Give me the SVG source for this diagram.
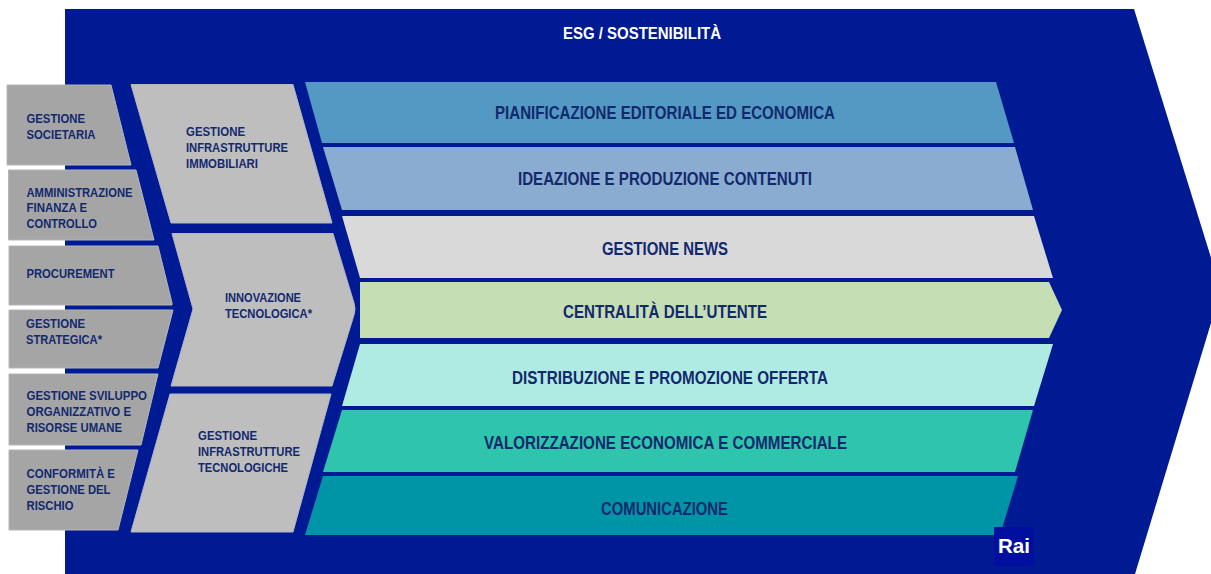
<svg xmlns="http://www.w3.org/2000/svg" width="1211" height="574" viewBox="0 0 1211 574">
<style>
text{font-family:"Liberation Sans",Arial,sans-serif;font-weight:bold;fill:#12296e}
.s{font-size:13.500px}
.b{font-size:18px}
.l{fill:#a5a5a5;stroke:#b4b6bd;stroke-width:1}
.c{fill:#bebebe;stroke:#b4b6c4;stroke-width:1}
</style>
<rect width="1211" height="574" fill="#fff"/>
<g id="frame">
<path d="M65 9H1134L1221 290L1135 574H65Z" fill="#001a94"/>
<text x="563" y="39" textLength="158" lengthAdjust="spacingAndGlyphs" style="font-size:16px;fill:#fff">ESG / SOSTENIBILITÀ</text>
</g>
<g id="connectors"/>
<g id="gestione-societaria"><path class="l" d="M7 85H111L131 165H7Z"/><text class="s" x="26.500" y="123" textLength="58.500" lengthAdjust="spacingAndGlyphs">GESTIONE</text><text class="s" x="26.500" y="139" textLength="69" lengthAdjust="spacingAndGlyphs">SOCIETARIA</text></g>
<g id="amministrazione"><path class="l" d="M8.500 170H136L154 240H8.500Z"/><text class="s" x="26.500" y="197" textLength="106" lengthAdjust="spacingAndGlyphs">AMMINISTRAZIONE</text><text class="s" x="26.500" y="212" textLength="60.500" lengthAdjust="spacingAndGlyphs">FINANZA E</text><text class="s" x="26.500" y="228" textLength="70.500" lengthAdjust="spacingAndGlyphs">CONTROLLO</text></g>
<g id="procurement"><path class="l" d="M9 246H158L172 303V305H9Z"/><text class="s" x="26.500" y="278" textLength="88" lengthAdjust="spacingAndGlyphs">PROCUREMENT</text></g>
<g id="gestione-strategica"><path class="l" d="M9 310H173L158 368H9Z"/><text class="s" x="26" y="328" textLength="59" lengthAdjust="spacingAndGlyphs">GESTIONE</text><text class="s" x="26" y="344" textLength="76" lengthAdjust="spacingAndGlyphs">STRATEGICA*</text></g>
<g id="gestione-sviluppo"><path class="l" d="M9 374H158L141 445H9Z"/><text class="s" x="26.500" y="400" textLength="120.500" lengthAdjust="spacingAndGlyphs">GESTIONE SVILUPPO</text><text class="s" x="26.500" y="416" textLength="104.500" lengthAdjust="spacingAndGlyphs">ORGANIZZATIVO E</text><text class="s" x="26.500" y="432" textLength="95.500" lengthAdjust="spacingAndGlyphs">RISORSE UMANE</text></g>
<g id="conformita"><path class="l" d="M9 450H138L118 530H9Z"/><text class="s" x="26.500" y="478" textLength="88.500" lengthAdjust="spacingAndGlyphs">CONFORMITÀ E</text><text class="s" x="26.500" y="494" textLength="84" lengthAdjust="spacingAndGlyphs">GESTIONE DEL</text><text class="s" x="26.500" y="510" textLength="47" lengthAdjust="spacingAndGlyphs">RISCHIO</text></g>
<g id="infrastrutture-immobiliari"><path class="c" d="M131 84.500H293L332 223H171Z"/><text class="s" x="186" y="136" textLength="59" lengthAdjust="spacingAndGlyphs">GESTIONE</text><text class="s" x="186" y="152" textLength="102" lengthAdjust="spacingAndGlyphs">INFRASTRUTTURE</text><text class="s" x="186" y="168" textLength="72" lengthAdjust="spacingAndGlyphs">IMMOBILIARI</text></g>
<g id="innovazione"><path class="c" d="M172 233.500H333L354 303Q356 309 354 315L332 386H171L193 309Z"/><text class="s" x="225" y="302" textLength="76" lengthAdjust="spacingAndGlyphs">INNOVAZIONE</text><text class="s" x="225" y="318" textLength="87" lengthAdjust="spacingAndGlyphs">TECNOLOGICA*</text></g>
<g id="infrastrutture-tecnologiche"><path class="c" d="M170 394H331L293 532H131Z"/><text class="s" x="198" y="440" textLength="59" lengthAdjust="spacingAndGlyphs">GESTIONE</text><text class="s" x="198" y="456" textLength="102" lengthAdjust="spacingAndGlyphs">INFRASTRUTTURE</text><text class="s" x="198" y="472" textLength="90" lengthAdjust="spacingAndGlyphs">TECNOLOGICHE</text></g>
<g id="pianificazione"><path fill="#5499c3" d="M305 82H996L1014 143H322Z"/><text class="b" x="495" y="119" textLength="340" lengthAdjust="spacingAndGlyphs">PIANIFICAZIONE EDITORIALE ED ECONOMICA</text></g>
<g id="ideazione"><path fill="#8aacd0" d="M323 147H1015L1033 210H342Z"/><text class="b" x="518" y="185" textLength="294" lengthAdjust="spacingAndGlyphs">IDEAZIONE E PRODUZIONE CONTENUTI</text></g>
<g id="news"><path fill="#d9d9d9" d="M342 216H1034L1053 278H360Z"/><text class="b" x="602" y="255" textLength="126" lengthAdjust="spacingAndGlyphs">GESTIONE NEWS</text></g>
<g id="utente"><path fill="#c5deb4" d="M360 282H1049L1062 310L1049 338H360Z"/><text class="b" x="563" y="318" textLength="204" lengthAdjust="spacingAndGlyphs">CENTRALITÀ DELL’UTENTE</text></g>
<g id="distribuzione"><path fill="#b0ebe3" d="M360 344H1053L1034 406H342Z"/><text class="b" x="512" y="384" textLength="316" lengthAdjust="spacingAndGlyphs">DISTRIBUZIONE E PROMOZIONE OFFERTA</text></g>
<g id="valorizzazione"><path fill="#2fc5ac" d="M342 410H1033L1015 472H323Z"/><text class="b" x="484" y="449" textLength="363" lengthAdjust="spacingAndGlyphs">VALORIZZAZIONE ECONOMICA E COMMERCIALE</text></g>
<g id="comunicazione"><path fill="#0095a6" d="M323 476H1018L1000 535H305Z"/><text class="b" x="601" y="515" textLength="127" lengthAdjust="spacingAndGlyphs">COMUNICAZIONE</text></g>
<g id="logo"><rect x="994" y="527" width="40" height="39" fill="#000f9f"/><text x="998" y="553" textLength="32" lengthAdjust="spacingAndGlyphs" style="font-size:21px;fill:#fff">Rai</text></g>
</svg>
